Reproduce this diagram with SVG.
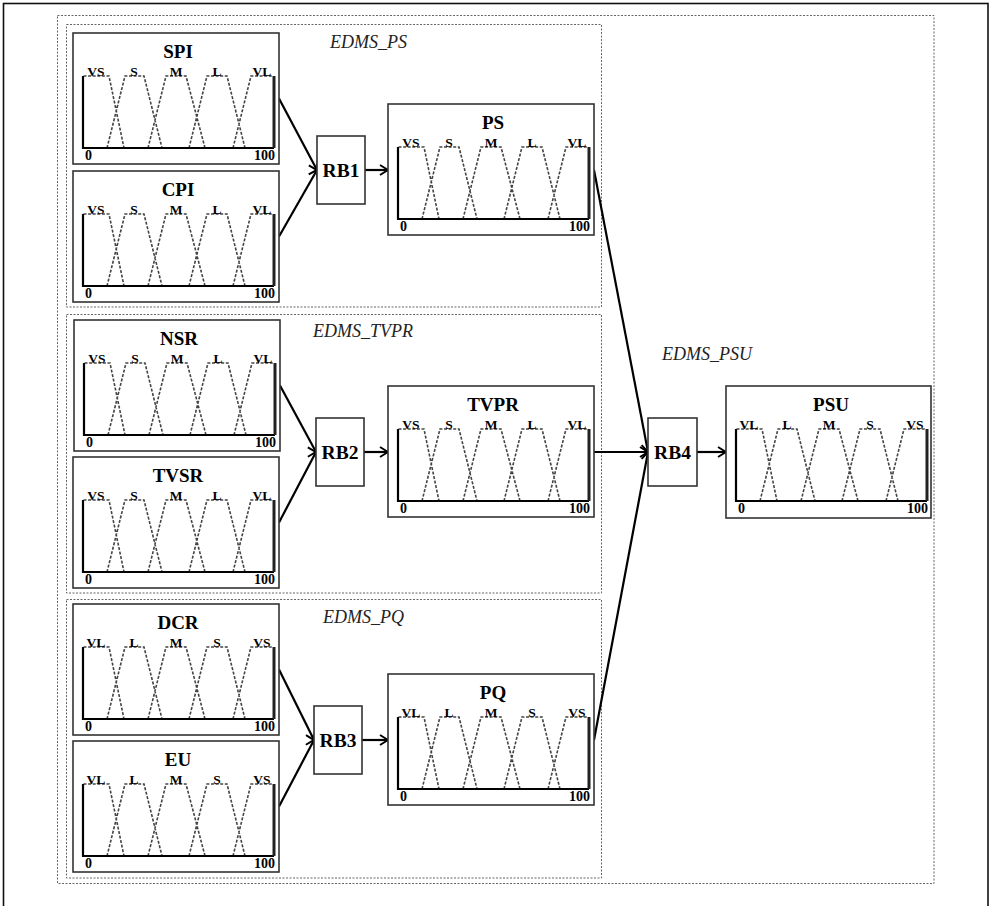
<svg xmlns="http://www.w3.org/2000/svg" xmlns:xlink="http://www.w3.org/1999/xlink" width="990" height="906" viewBox="0 0 990 906">
<style>
.bg{fill:#fff}
.outer{fill:none;stroke:#111;stroke-width:1.6}
.frame{fill:none;stroke:#666;stroke-width:1;stroke-dasharray:2 1.5}
.box{fill:#fff;stroke:#333;stroke-width:1.6}
.ax{fill:none;stroke:#000;stroke-width:2.2}
.axr{fill:none;stroke:#222;stroke-width:3}
.mf{fill:none;stroke:#444;stroke-width:1.6;stroke-dasharray:3 1.6}
.ttl{font-family:"Liberation Serif",serif;font-weight:bold;font-size:19px;text-anchor:middle;fill:#000}
.lbl{font-family:"Liberation Serif",serif;font-weight:bold;font-size:13.5px;text-anchor:middle;fill:#000}
.n0{font-family:"Liberation Serif",serif;font-weight:bold;font-size:14px;text-anchor:start;fill:#000}
.n100{font-family:"Liberation Serif",serif;font-weight:bold;font-size:14px;text-anchor:end;fill:#000}
.rb{font-family:"Liberation Serif",serif;font-weight:bold;font-size:19.5px;text-anchor:middle;fill:#000}
.grp{font-family:"Liberation Serif",serif;font-style:italic;font-size:18px;fill:#222}
.conn{fill:none;stroke:#000;stroke-width:2.2;marker-end:url(#arr)}
</style>
<defs>
<marker id="arr" viewBox="0 0 10 12" refX="9" refY="6" markerWidth="10" markerHeight="12" markerUnits="userSpaceOnUse" orient="auto">
<path d="M1,1 L9,6 L1,11" fill="none" stroke="#000" stroke-width="2"/>
</marker>
<path id="axes" class="ax" d="M10,43 V115 H201"/>
<path id="axr" class="axr" d="M201,43 V115"/>
<path id="mfs" class="mf" d="M10.5,43 H36 L51,115 M34,115 L52,43 H71 L89,115 M75,115 L93,43 H113 L132,115 M116,115 L134,43 H154 L172,115 M160,115 L178,43 H200"/>
</defs>
<rect class="bg" x="0" y="0" width="990" height="906"/>
<rect class="outer" x="3.5" y="3.5" width="984.5" height="910"/>

<g id="frames">
<rect class="frame" x="57.5" y="15.5" width="876.5" height="868"/>
<rect class="frame" x="66.5" y="24.5" width="535" height="282.5"/>
<rect class="frame" x="66.5" y="314.5" width="535" height="278.5"/>
<rect class="frame" x="66.5" y="599.5" width="535" height="278.5"/>
<text class="grp" x="330" y="48">EDMS_PS</text>
<text class="grp" x="313" y="337">EDMS_TVPR</text>
<text class="grp" x="323" y="623">EDMS_PQ</text>
<text class="grp" x="662" y="360">EDMS_PSU</text>
</g>

<g id="connectors">
<path class="conn" d="M279,98.5 L317,170"/>
<path class="conn" d="M279,236.5 L317,170"/>
<path class="conn" d="M365,170 L388,170"/>
<path class="conn" d="M280,385.5 L316,452"/>
<path class="conn" d="M279,522.5 L316,452"/>
<path class="conn" d="M364,452 L388,452"/>
<path class="conn" d="M279,669.5 L314,740"/>
<path class="conn" d="M279,806.5 L314,740"/>
<path class="conn" d="M362,740 L388,740"/>
<path class="conn" d="M594,170 L648,452"/>
<path class="conn" d="M594,452 L648,452"/>
<path class="conn" d="M594,740 L648,452"/>
<path class="conn" d="M697,452 L726,452"/>
</g>

<g id="SPI" transform="translate(73,33)">
<rect class="box" x="0" y="0" width="206" height="131"/>
<use href="#mfs"/><use href="#axes"/><use href="#axr"/>
<text class="ttl" x="105" y="25">SPI</text>
<text class="lbl" x="23" y="43">VS</text><text class="lbl" x="61" y="43">S</text><text class="lbl" x="103" y="43">M</text><text class="lbl" x="144" y="43">L</text><text class="lbl" x="189" y="43">VL</text>
<text class="n0" x="12" y="127">0</text><text class="n100" x="202" y="127">100</text>
</g>

<g id="CPI" transform="translate(73,171)">
<rect class="box" x="0" y="0" width="206" height="131"/>
<use href="#mfs"/><use href="#axes"/><use href="#axr"/>
<text class="ttl" x="105" y="25">CPI</text>
<text class="lbl" x="23" y="43">VS</text><text class="lbl" x="61" y="43">S</text><text class="lbl" x="103" y="43">M</text><text class="lbl" x="144" y="43">L</text><text class="lbl" x="189" y="43">VL</text>
<text class="n0" x="12" y="127">0</text><text class="n100" x="202" y="127">100</text>
</g>

<g id="NSR" transform="translate(74,320)">
<rect class="box" x="0" y="0" width="206" height="131"/>
<use href="#mfs"/><use href="#axes"/><use href="#axr"/>
<text class="ttl" x="105" y="25">NSR</text>
<text class="lbl" x="23" y="43">VS</text><text class="lbl" x="61" y="43">S</text><text class="lbl" x="103" y="43">M</text><text class="lbl" x="144" y="43">L</text><text class="lbl" x="189" y="43">VL</text>
<text class="n0" x="12" y="127">0</text><text class="n100" x="202" y="127">100</text>
</g>

<g id="TVSR" transform="translate(73,457)">
<rect class="box" x="0" y="0" width="206" height="131"/>
<use href="#mfs"/><use href="#axes"/><use href="#axr"/>
<text class="ttl" x="105" y="25">TVSR</text>
<text class="lbl" x="23" y="43">VS</text><text class="lbl" x="61" y="43">S</text><text class="lbl" x="103" y="43">M</text><text class="lbl" x="144" y="43">L</text><text class="lbl" x="189" y="43">VL</text>
<text class="n0" x="12" y="127">0</text><text class="n100" x="202" y="127">100</text>
</g>

<g id="DCR" transform="translate(73,604)">
<rect class="box" x="0" y="0" width="206" height="131"/>
<use href="#mfs"/><use href="#axes"/><use href="#axr"/>
<text class="ttl" x="105" y="25">DCR</text>
<text class="lbl" x="23" y="43">VL</text><text class="lbl" x="61" y="43">L</text><text class="lbl" x="103" y="43">M</text><text class="lbl" x="144" y="43">S</text><text class="lbl" x="189" y="43">VS</text>
<text class="n0" x="12" y="127">0</text><text class="n100" x="202" y="127">100</text>
</g>

<g id="EU" transform="translate(73,741)">
<rect class="box" x="0" y="0" width="206" height="131"/>
<use href="#mfs"/><use href="#axes"/><use href="#axr"/>
<text class="ttl" x="105" y="25">EU</text>
<text class="lbl" x="23" y="43">VL</text><text class="lbl" x="61" y="43">L</text><text class="lbl" x="103" y="43">M</text><text class="lbl" x="144" y="43">S</text><text class="lbl" x="189" y="43">VS</text>
<text class="n0" x="12" y="127">0</text><text class="n100" x="202" y="127">100</text>
</g>

<g id="PS" transform="translate(388,104)">
<rect class="box" x="0" y="0" width="206" height="131"/>
<use href="#mfs"/><use href="#axes"/><use href="#axr"/>
<text class="ttl" x="105" y="25">PS</text>
<text class="lbl" x="23" y="43">VS</text><text class="lbl" x="61" y="43">S</text><text class="lbl" x="103" y="43">M</text><text class="lbl" x="144" y="43">L</text><text class="lbl" x="189" y="43">VL</text>
<text class="n0" x="12" y="127">0</text><text class="n100" x="202" y="127">100</text>
</g>

<g id="TVPR" transform="translate(388,386)">
<rect class="box" x="0" y="0" width="206" height="131"/>
<use href="#mfs"/><use href="#axes"/><use href="#axr"/>
<text class="ttl" x="105" y="25">TVPR</text>
<text class="lbl" x="23" y="43">VS</text><text class="lbl" x="61" y="43">S</text><text class="lbl" x="103" y="43">M</text><text class="lbl" x="144" y="43">L</text><text class="lbl" x="189" y="43">VL</text>
<text class="n0" x="12" y="127">0</text><text class="n100" x="202" y="127">100</text>
</g>

<g id="PQ" transform="translate(388,674)">
<rect class="box" x="0" y="0" width="206" height="131"/>
<use href="#mfs"/><use href="#axes"/><use href="#axr"/>
<text class="ttl" x="105" y="25">PQ</text>
<text class="lbl" x="23" y="43">VL</text><text class="lbl" x="61" y="43">L</text><text class="lbl" x="103" y="43">M</text><text class="lbl" x="144" y="43">S</text><text class="lbl" x="189" y="43">VS</text>
<text class="n0" x="12" y="127">0</text><text class="n100" x="202" y="127">100</text>
</g>

<g id="PSU" transform="translate(726,386)">
<rect class="box" x="0" y="0" width="205" height="132"/>
<use href="#mfs"/><use href="#axes"/><use href="#axr"/>
<text class="ttl" x="105" y="25">PSU</text>
<text class="lbl" x="23" y="43">VL</text><text class="lbl" x="61" y="43">L</text><text class="lbl" x="103" y="43">M</text><text class="lbl" x="144" y="43">S</text><text class="lbl" x="189" y="43">VS</text>
<text class="n0" x="12" y="127">0</text><text class="n100" x="202" y="127">100</text>
</g>

<g id="RB1"><rect class="box" x="317" y="136" width="48" height="68"/><text class="rb" x="341" y="177">RB1</text></g>
<g id="RB2"><rect class="box" x="316" y="418" width="48" height="68"/><text class="rb" x="340" y="459">RB2</text></g>
<g id="RB3"><rect class="box" x="314" y="706" width="48" height="68"/><text class="rb" x="338" y="747">RB3</text></g>
<g id="RB4"><rect class="box" x="648" y="418" width="49" height="68"/><text class="rb" x="672.5" y="459">RB4</text></g>
</svg>
